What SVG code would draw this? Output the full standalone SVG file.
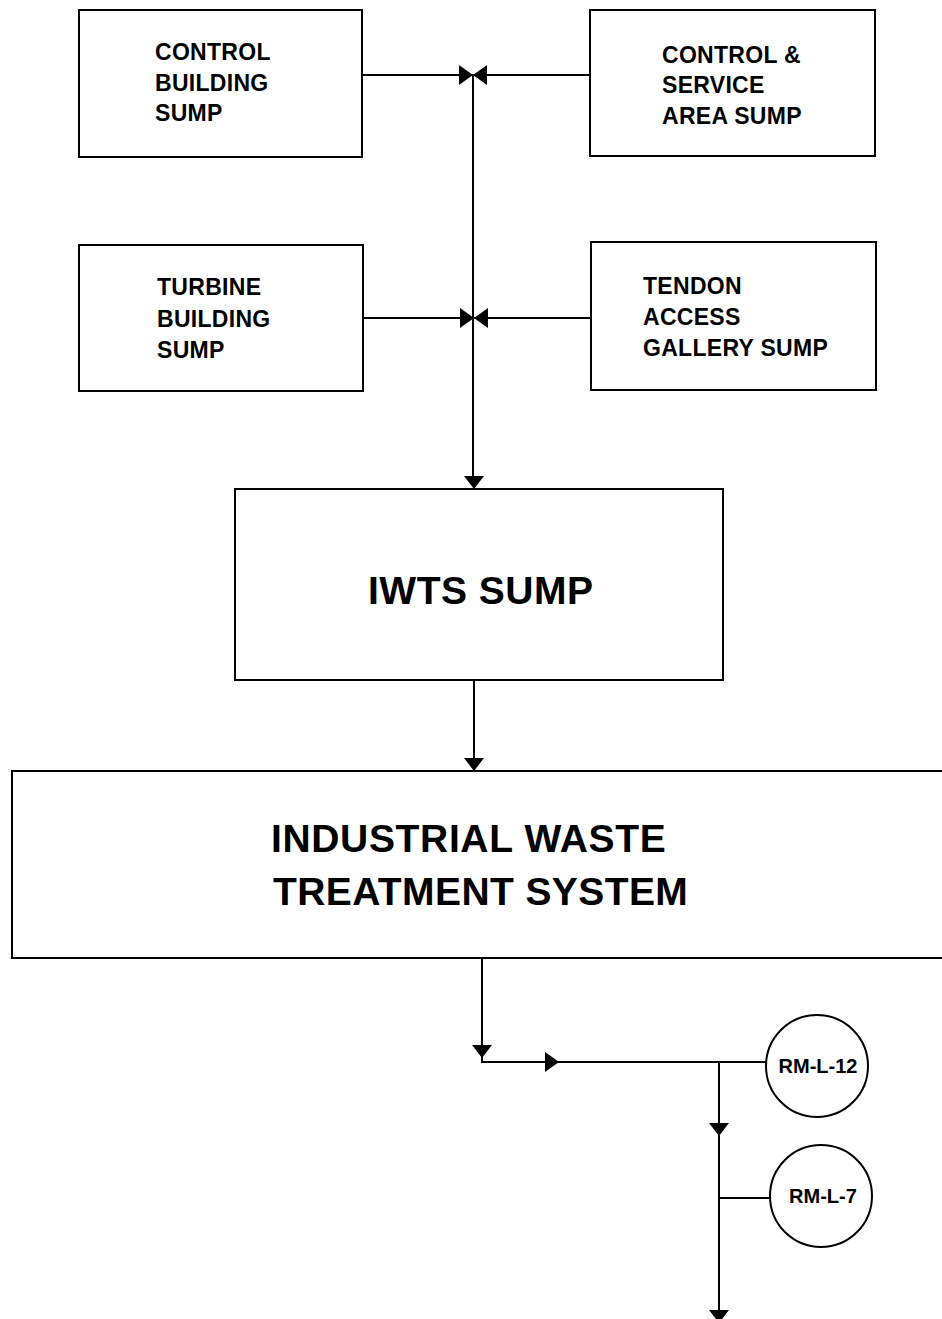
<svg xmlns="http://www.w3.org/2000/svg" width="942" height="1319" viewBox="0 0 942 1319">
<defs>
<style>
.box{fill:#fff;stroke:#000;stroke-width:2}
.ln{fill:none;stroke:#000;stroke-width:2}
.ah{fill:#000}
.t{font-family:"Liberation Sans",Arial,sans-serif;font-weight:bold;fill:#000}
.s{font-size:23px;letter-spacing:0.3px}
.b{font-size:39px}
.c{font-size:20px;text-anchor:middle}
</style>
</defs>
<rect width="942" height="1319" fill="#fff"/>
<g id="connectors">
<path class="ln" d="M362 75 H590"/>
<path class="ln" d="M363 318 H591"/>
<path class="ln" d="M473 75 V480"/>
<path class="ln" d="M474 680 V762"/>
<path class="ln" d="M482 958 V1062 H767"/>
<path class="ln" d="M719 1062 V1319"/>
<path class="ln" d="M719 1198 H770"/>
<polygon class="ah" points="459,65 459,85 473,75"/>
<polygon class="ah" points="487,65 487,85 473,75"/>
<polygon class="ah" points="460,308 460,328 474,318"/>
<polygon class="ah" points="488,308 488,328 474,318"/>
<polygon class="ah" points="464,476 484,476 474,489"/>
<polygon class="ah" points="464,758 484,758 474,771"/>
<polygon class="ah" points="472,1045 492,1045 482,1058"/>
<polygon class="ah" points="545,1052 545,1072 559,1062"/>
<polygon class="ah" points="709,1123 729,1123 719,1136"/>
<polygon class="ah" points="709,1310 729,1310 719,1323"/>
</g>
<g id="control-building-sump">
<rect class="box" x="79" y="10" width="283" height="147"/>
<text class="t s" x="155" y="60">CONTROL</text>
<text class="t s" x="155" y="91">BUILDING</text>
<text class="t s" x="155" y="121">SUMP</text>
</g>
<g id="control-service-area-sump">
<rect class="box" x="590" y="10" width="285" height="146"/>
<text class="t s" x="662" y="63">CONTROL &amp;</text>
<text class="t s" x="662" y="93">SERVICE</text>
<text class="t s" x="662" y="124">AREA SUMP</text>
</g>
<g id="turbine-building-sump">
<rect class="box" x="79" y="245" width="284" height="146"/>
<text class="t s" x="157" y="295">TURBINE</text>
<text class="t s" x="157" y="327">BUILDING</text>
<text class="t s" x="157" y="358">SUMP</text>
</g>
<g id="tendon-access-gallery-sump">
<rect class="box" x="591" y="242" width="285" height="148"/>
<text class="t s" x="643" y="294">TENDON</text>
<text class="t s" x="643" y="325">ACCESS</text>
<text class="t s" x="643" y="356">GALLERY SUMP</text>
</g>
<g id="iwts-sump">
<rect class="box" x="235" y="489" width="488" height="191"/>
<text class="t b" x="368" y="604" style="letter-spacing:0.5px">IWTS SUMP</text>
</g>
<g id="industrial-waste-treatment-system">
<rect class="box" x="12" y="771" width="940" height="187"/>
<text class="t b" x="271" y="852" style="letter-spacing:0.65px">INDUSTRIAL WASTE</text>
<text class="t b" x="273" y="905" style="letter-spacing:0.4px">TREATMENT SYSTEM</text>
</g>
<g id="rm-l-12">
<circle class="box" cx="817" cy="1066" r="51"/>
<text class="t c" x="818" y="1073">RM-L-12</text>
</g>
<g id="rm-l-7">
<circle class="box" cx="821" cy="1196" r="51"/>
<text class="t c" x="823" y="1203">RM-L-7</text>
</g>
</svg>
